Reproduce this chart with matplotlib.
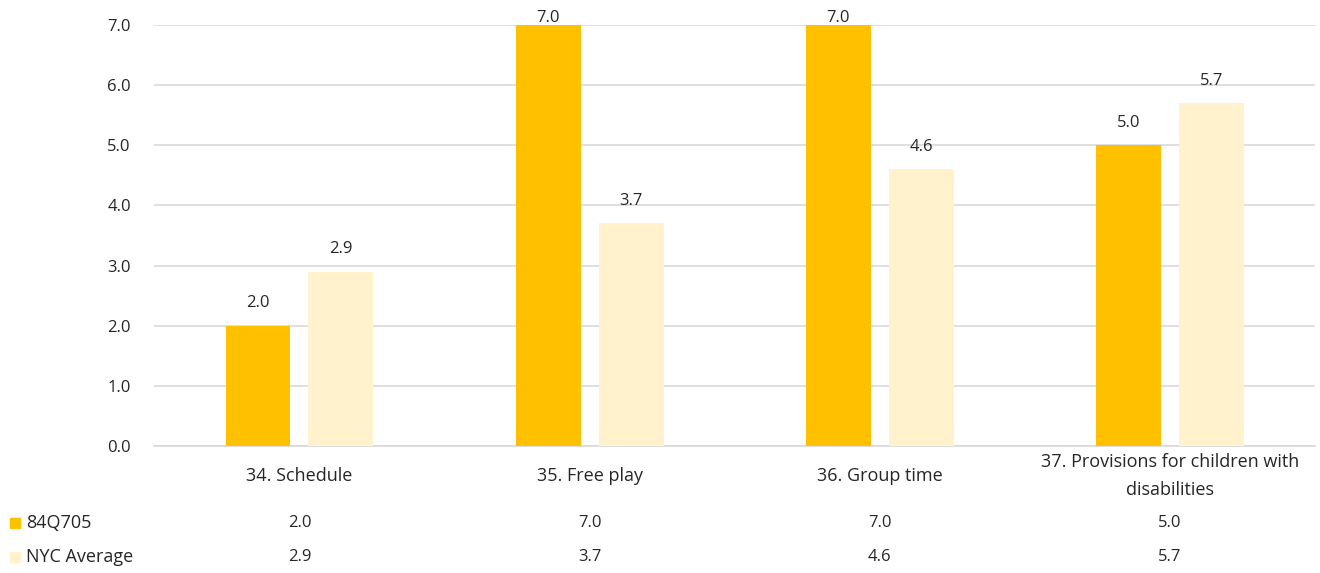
import numpy as np
import matplotlib.pyplot as plt
import matplotlib.transforms as mtransforms

plt.rcParams['font.family'] = ['Open Sans', 'DejaVu Sans']

categories = ['34. Schedule', '35. Free play', '36. Group time',
              '37. Provisions for children with\ndisabilities']
series_names = ['84Q705', 'NYC Average']
school_vals = [2.0, 7.0, 7.0, 5.0]
nyc_vals = [2.9, 3.7, 4.6, 5.7]
colors = ['#FFC000', '#FFF2CC']
txt = '#262626'
fs = 12

fig = plt.figure(figsize=(13.2, 5.73), dpi=100)
ax = fig.add_axes([0.117, 0.222, 0.879, 0.734])

x = np.arange(len(categories))
w = 0.224
off = 0.143
for vals, dx, c in [(school_vals, -off, colors[0]), (nyc_vals, off, colors[1])]:
    bars = ax.bar(x + dx, vals, width=w, color=c, zorder=3)
    for b, v in zip(bars, vals):
        ax.text(b.get_x() + b.get_width() / 2, min(v + 0.37, 7.12), '{:.1f}'.format(v),
                ha='center', va='center', fontsize=fs, color=txt, zorder=4)

ax.set_xlim(-0.5, len(categories) - 0.5)
ax.set_ylim(0, 7)
ax.set_yticks(np.arange(0, 8, 1))
ax.set_yticklabels(['{:.1f}'.format(v) for v in np.arange(0, 8, 1)], fontsize=fs, color=txt)
ax.set_xticks(x)
ax.set_xticklabels(categories, fontsize=13, color=txt, linespacing=1.7, va='center')
ax.tick_params(length=0)
ax.tick_params(axis='x', pad=22)
ax.tick_params(axis='y', pad=17)
ax.grid(axis='y', color='#d9d9d9', linewidth=1.2, zorder=0)
for s in ['top', 'right', 'left']:
    ax.spines[s].set_visible(False)
ax.spines['bottom'].set_color('#d9d9d9')
ax.spines['bottom'].set_linewidth(1.2)

# data table rows below the chart
trans = mtransforms.blended_transform_factory(ax.transData, fig.transFigure)
row_y = [1 - 523 / 573, 1 - 557 / 573]
for vals, name, c, ry in zip([school_vals, nyc_vals], series_names, colors, row_y):
    fig.patches.append(plt.Rectangle((10 / 1320, ry - 0.009), 10 / 1320, 0.018,
                                     transform=fig.transFigure, color=c, figure=fig))
    fig.text(26 / 1320, ry, name, ha='left', va='center', fontsize=13, color=txt)
    for xi, v in zip(x, vals):
        ax.text(xi, ry, '{:.1f}'.format(v), transform=trans, ha='center', va='center',
                fontsize=fs, color=txt, clip_on=False)

fig.savefig('out.png', dpi=100)
